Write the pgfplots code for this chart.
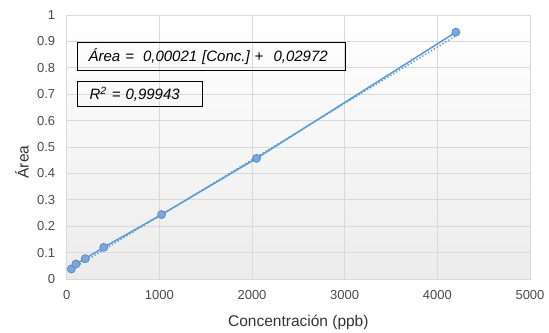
\documentclass[border=0pt]{standalone}
\usepackage{fontspec}
\setmainfont{Liberation Sans}
\usepackage{pgfplots}
\pgfplotsset{compat=1.18}
\definecolor{ln}{HTML}{5B9BD5}
\definecolor{mk}{HTML}{7EA6DC}
\definecolor{mkd}{HTML}{5A8CCB}
\definecolor{gridc}{HTML}{D9D9D9}
\definecolor{labc}{HTML}{4A4A4A}
\definecolor{bgc}{HTML}{ECECEC}
\begin{document}
\begin{tikzpicture}
\useasboundingbox (-66.7bp,-54bp) rectangle (482.3bp,279bp);
\begin{axis}[
  scale only axis, width=463.3bp, height=264bp,
  xmin=0, xmax=5000, ymin=0, ymax=1,
  xtick={0,1000,2000,3000,4000,5000},
  ytick={0,0.1,0.2,0.3,0.4,0.5,0.6,0.7,0.8,0.9,1},
  /pgf/number format/assume math mode=true,
  /pgf/number format/1000 sep={},
  yticklabel style={/pgf/number format/fixed, /pgf/number format/precision=1, xshift=-8bp},
  xticklabel style={yshift=-8bp},
  grid=major,
  major grid style={draw=gridc, line width=0.9bp},
  axis line style={draw=gridc, line width=0.9bp},
  major tick length=0pt, tick style={draw=none},
  tick label style={font=\fontsize{13bp}{15bp}\selectfont, text=labc},
  label style={font=\fontsize{15.5bp}{18bp}\selectfont, text=black!80},
  xlabel={Concentración (ppb)},
  ylabel={Área},
  xlabel style={at={(axis description cs:0.5,0)}, anchor=center, yshift=-43bp},
  ylabel style={at={(axis description cs:0,0.443)}, anchor=center, xshift=0bp, yshift=44.7bp},
  axis background/.style={shade, top color=white, bottom color=bgc},
  clip=false,
]
\addplot[ln, line width=1.4bp, dotted] coordinates {(50,0.036) (4200,0.921)};
\addplot[ln, line width=1.5bp, mark=*, mark size=4bp,
  mark options={fill=mk, draw=mkd, line width=0.8bp, solid}]
  coordinates {(50,0.038) (100,0.057) (200,0.077) (400,0.120) (1024,0.244) (2048,0.457) (4200,0.935)};
\node[draw=black, line width=1.2bp, anchor=north west,
  minimum height=28bp, inner xsep=11bp, inner ysep=0pt, text width=246bp, align=left,
  font=\fontsize{15bp}{18bp}\selectfont\itshape] at (axis cs:111,0.898)
  {Área =\hspace{9bp}0,00021 [Conc.]\hspace{5bp}+\hspace{10bp}0,02972};
\node[draw=black, line width=1.2bp, anchor=north west,
  minimum height=25bp, inner xsep=12bp, inner ysep=0pt, text width=101bp, align=left,
  font=\fontsize{15bp}{18bp}\selectfont\itshape] at (axis cs:111,0.750)
  {R\textsuperscript{2} = 0,99943};
\end{axis}
\end{tikzpicture}
\end{document}
